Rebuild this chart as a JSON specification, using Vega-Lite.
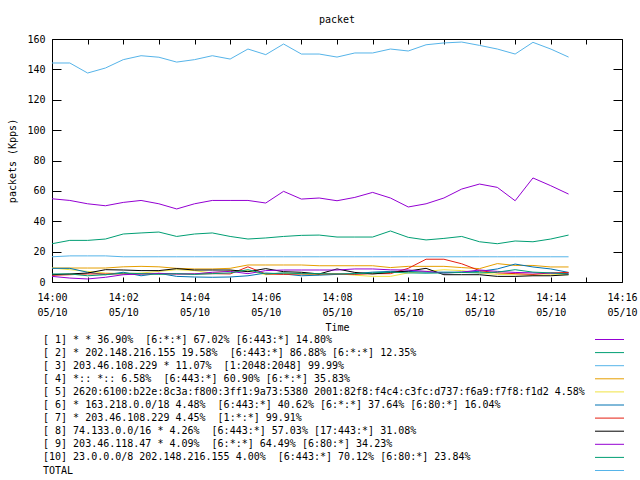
{
  "$schema": "https://vega.github.io/schema/vega-lite/v6.json",
  "width": 570,
  "height": 243,
  "autosize": {"type": "none"},
  "padding": {"left": 52, "top": 39, "right": 18, "bottom": 198},
  "background": "white",
  "title": {"text": "packet", "font": "DejaVu Sans Mono", "fontSize": 10, "fontWeight": "normal", "color": "black", "anchor": "middle", "frame": "group", "offset": 9},
  "config": {
    "view": {"stroke": "black", "strokeWidth": 1},
    "font": "DejaVu Sans Mono"
  },
  "data": {"values": [
    {"t": "2024-05-10T14:00:00", "a1": 54.8, "a2": 25.2, "a3": 16.6, "a4": 9.2, "a5": 9.2, "a6": 9.0, "a7": 4.4, "a8": 4.8, "a9": 3.7, "a10": 5.3, "tot": 144.2},
    {"t": "2024-05-10T14:00:30", "a1": 53.7, "a2": 27.4, "a3": 17.2, "a4": 9.2, "a5": 8.1, "a6": 9.0, "a7": 4.8, "a8": 5.3, "a9": 2.6, "a10": 5.3, "tot": 144.2},
    {"t": "2024-05-10T14:01:00", "a1": 51.5, "a2": 27.4, "a3": 17.2, "a4": 9.2, "a5": 7.0, "a6": 6.4, "a7": 5.3, "a8": 5.9, "a9": 2.0, "a10": 4.1, "tot": 137.6},
    {"t": "2024-05-10T14:01:30", "a1": 50.2, "a2": 28.3, "a3": 17.2, "a4": 9.2, "a5": 5.9, "a6": 4.8, "a7": 5.3, "a8": 8.1, "a9": 3.1, "a10": 4.8, "tot": 140.9},
    {"t": "2024-05-10T14:02:00", "a1": 52.4, "a2": 31.6, "a3": 16.6, "a4": 10.0, "a5": 5.5, "a6": 6.4, "a7": 5.3, "a8": 7.9, "a9": 4.8, "a10": 5.9, "tot": 146.4},
    {"t": "2024-05-10T14:02:30", "a1": 53.7, "a2": 32.3, "a3": 16.6, "a4": 10.3, "a5": 5.9, "a6": 4.1, "a7": 5.3, "a8": 7.5, "a9": 5.3, "a10": 5.5, "tot": 149.0},
    {"t": "2024-05-10T14:03:00", "a1": 51.5, "a2": 32.9, "a3": 16.6, "a4": 10.0, "a5": 7.0, "a6": 5.7, "a7": 5.5, "a8": 7.5, "a9": 5.7, "a10": 5.0, "tot": 148.0},
    {"t": "2024-05-10T14:03:30", "a1": 48.1, "a2": 30.0, "a3": 16.6, "a4": 9.0, "a5": 8.1, "a6": 3.7, "a7": 5.3, "a8": 8.8, "a9": 5.3, "a10": 5.5, "tot": 144.8},
    {"t": "2024-05-10T14:04:00", "a1": 51.5, "a2": 31.6, "a3": 16.6, "a4": 8.6, "a5": 7.5, "a6": 3.3, "a7": 5.3, "a8": 7.9, "a9": 5.3, "a10": 5.0, "tot": 146.4},
    {"t": "2024-05-10T14:04:30", "a1": 53.7, "a2": 32.3, "a3": 16.6, "a4": 8.6, "a5": 5.9, "a6": 3.1, "a7": 5.5, "a8": 7.9, "a9": 6.4, "a10": 5.5, "tot": 149.0},
    {"t": "2024-05-10T14:05:00", "a1": 53.7, "a2": 30.0, "a3": 16.6, "a4": 9.0, "a5": 7.5, "a6": 3.3, "a7": 5.3, "a8": 7.9, "a9": 7.0, "a10": 6.0, "tot": 146.8},
    {"t": "2024-05-10T14:05:30", "a1": 53.7, "a2": 28.3, "a3": 16.6, "a4": 11.2, "a5": 7.5, "a6": 4.1, "a7": 10.0, "a8": 6.8, "a9": 5.5, "a10": 8.1, "tot": 153.4},
    {"t": "2024-05-10T14:06:00", "a1": 52.0, "a2": 29.0, "a3": 16.6, "a4": 11.2, "a5": 4.8, "a6": 5.9, "a7": 5.3, "a8": 8.8, "a9": 7.5, "a10": 5.3, "tot": 149.7},
    {"t": "2024-05-10T14:06:30", "a1": 59.7, "a2": 30.0, "a3": 16.6, "a4": 11.2, "a5": 5.7, "a6": 5.3, "a7": 5.0, "a8": 6.8, "a9": 7.9, "a10": 6.0, "tot": 156.7},
    {"t": "2024-05-10T14:07:00", "a1": 54.6, "a2": 30.7, "a3": 16.6, "a4": 11.2, "a5": 5.3, "a6": 4.1, "a7": 5.3, "a8": 6.4, "a9": 7.9, "a10": 5.5, "tot": 150.1},
    {"t": "2024-05-10T14:07:30", "a1": 55.3, "a2": 30.9, "a3": 16.6, "a4": 10.7, "a5": 4.8, "a6": 4.5, "a7": 5.3, "a8": 5.3, "a9": 7.9, "a10": 5.5, "tot": 150.1},
    {"t": "2024-05-10T14:08:00", "a1": 53.5, "a2": 29.6, "a3": 16.6, "a4": 10.7, "a5": 5.5, "a6": 5.0, "a7": 5.3, "a8": 8.6, "a9": 7.9, "a10": 5.3, "tot": 148.1},
    {"t": "2024-05-10T14:08:30", "a1": 55.7, "a2": 29.6, "a3": 16.6, "a4": 10.7, "a5": 4.5, "a6": 5.5, "a7": 5.0, "a8": 6.3, "a9": 8.6, "a10": 5.5, "tot": 150.8},
    {"t": "2024-05-10T14:09:00", "a1": 59.0, "a2": 29.6, "a3": 16.6, "a4": 10.7, "a5": 3.7, "a6": 6.5, "a7": 5.5, "a8": 5.3, "a9": 8.6, "a10": 6.0, "tot": 150.8},
    {"t": "2024-05-10T14:09:30", "a1": 55.3, "a2": 33.6, "a3": 16.6, "a4": 9.5, "a5": 3.7, "a6": 7.0, "a7": 5.5, "a8": 6.3, "a9": 8.0, "a10": 6.5, "tot": 153.4},
    {"t": "2024-05-10T14:10:00", "a1": 49.4, "a2": 29.4, "a3": 16.6, "a4": 10.3, "a5": 6.0, "a6": 7.0, "a7": 9.0, "a8": 7.2, "a9": 7.9, "a10": 6.0, "tot": 152.1},
    {"t": "2024-05-10T14:10:30", "a1": 51.5, "a2": 27.7, "a3": 16.6, "a4": 10.3, "a5": 7.0, "a6": 6.5, "a7": 15.0, "a8": 9.0, "a9": 7.0, "a10": 5.8, "tot": 156.2},
    {"t": "2024-05-10T14:11:00", "a1": 55.3, "a2": 28.7, "a3": 16.6, "a4": 10.3, "a5": 8.1, "a6": 6.5, "a7": 15.0, "a8": 4.8, "a9": 5.9, "a10": 6.0, "tot": 157.4},
    {"t": "2024-05-10T14:11:30", "a1": 61.2, "a2": 30.0, "a3": 16.6, "a4": 9.5, "a5": 7.5, "a6": 6.5, "a7": 12.0, "a8": 4.8, "a9": 6.5, "a10": 6.3, "tot": 158.0},
    {"t": "2024-05-10T14:12:00", "a1": 64.5, "a2": 26.5, "a3": 16.6, "a4": 8.8, "a5": 6.0, "a6": 7.0, "a7": 7.5, "a8": 4.8, "a9": 7.9, "a10": 6.0, "tot": 155.8},
    {"t": "2024-05-10T14:12:30", "a1": 62.3, "a2": 25.2, "a3": 16.6, "a4": 12.1, "a5": 5.0, "a6": 8.6, "a7": 6.0, "a8": 3.7, "a9": 7.0, "a10": 6.5, "tot": 153.4},
    {"t": "2024-05-10T14:13:00", "a1": 53.5, "a2": 27.0, "a3": 16.6, "a4": 10.9, "a5": 4.8, "a6": 11.8, "a7": 5.5, "a8": 3.7, "a9": 6.3, "a10": 8.1, "tot": 150.1},
    {"t": "2024-05-10T14:13:30", "a1": 68.5, "a2": 26.5, "a3": 16.6, "a4": 10.9, "a5": 4.5, "a6": 9.9, "a7": 5.0, "a8": 4.1, "a9": 6.0, "a10": 6.5, "tot": 157.8},
    {"t": "2024-05-10T14:14:00", "a1": 63.4, "a2": 28.3, "a3": 16.6, "a4": 9.9, "a5": 4.8, "a6": 8.6, "a7": 6.0, "a8": 4.1, "a9": 5.8, "a10": 6.0, "tot": 153.4},
    {"t": "2024-05-10T14:14:30", "a1": 57.9, "a2": 30.9, "a3": 16.6, "a4": 9.9, "a5": 4.8, "a6": 6.3, "a7": 6.3, "a8": 4.8, "a9": 5.5, "a10": 5.3, "tot": 148.1}
  ]},
  "transform": [
    {"fold": ["a1", "a2", "a3", "a4", "a5", "a6", "a7", "a8", "a9", "a10", "tot"], "as": ["k", "v"]}
  ],
  "mark": {"type": "line", "strokeWidth": 1},
  "encoding": {
    "x": {"field": "t", "type": "temporal",
      "scale": {"domain": [{"year": 2024, "month": 5, "date": 10, "hours": 14, "minutes": 0}, {"year": 2024, "month": 5, "date": 10, "hours": 14, "minutes": 16}], "nice": false},
      "axis": {"orient": "bottom", "tickCount": 16, "domain": false, "ticks": false,
        "grid": true, "gridColor": "black", "gridOpacity": 1, "gridWidth": 1, "gridDash": [5, 233, 5, 0],
        "labelExpr": "minutes(datum.value) % 2 == 0 ? [timeFormat(datum.value, '%H:%M'), timeFormat(datum.value, '%m/%d')] : ''",
        "labelFont": "DejaVu Sans Mono", "labelFontSize": 10, "labelColor": "black", "labelFlush": false, "labelOverlap": false,
        "labelBaseline": "top", "labelLineHeight": 15, "labelPadding": 10,
        "title": "Time", "titleFont": "DejaVu Sans Mono", "titleFontSize": 10, "titleFontWeight": "normal", "titleColor": "black",
        "titleY": 45, "titleBaseline": "middle"}},
    "y": {"field": "v", "type": "quantitative",
      "scale": {"domain": [0, 160], "nice": false},
      "axis": {"orient": "left", "values": [0, 20, 40, 60, 80, 100, 120, 140, 160], "domain": false, "ticks": false,
        "grid": true, "gridColor": "black", "gridOpacity": 1, "gridWidth": 1, "gridDash": [9, 552, 9, 0],
        "labelFont": "DejaVu Sans Mono", "labelFontSize": 10, "labelColor": "black", "labelPadding": 7, "labelFlush": false,
        "title": "packets (Kpps)", "titleFont": "DejaVu Sans Mono", "titleFontSize": 10, "titleFontWeight": "normal", "titleColor": "black",
        "titleX": -40, "titleY": 121.5, "titleBaseline": "middle", "titleAlign": "center", "titleAngle": -90}},
    "color": {"field": "k", "type": "nominal",
      "scale": {
        "domain": ["a1", "a2", "a3", "a4", "a5", "a6", "a7", "a8", "a9", "a10", "tot"],
        "range": ["#9400d3", "#009e73", "#56b4e9", "#e69f00", "#f0e442", "#0072b2", "#e51e10", "#000000", "#9400d3", "#009e73", "#56b4e9"]
      },
      "legend": {"orient": "none", "legendX": 552, "legendY": 295, "title": null, "padding": 0,
        "symbolType": "M-2.9,0H2.9", "symbolSize": 100, "symbolStrokeWidth": 1,
        "labelFont": "DejaVu Sans Mono", "labelFontSize": 10, "labelColor": "black", "labelLimit": 1000,
        "labelOffset": -572, "rowPadding": 2.1,
        "encode": {"symbols": {"update": {"stroke": {"scale": "color", "field": "value"}}}},
        "labelExpr": "({'a1': '[ 1] * * 36.90%\u00a0 [6:*:*] 67.02% [6:443:*] 14.80%', 'a2': '[ 2] * 202.148.216.155 19.58%\u00a0 [6:443:*] 86.88% [6:*:*] 12.35%', 'a3': '[ 3] 203.46.108.229 * 11.07%\u00a0 [1:2048:2048] 99.99%', 'a4': '[ 4] *:: *:: 6.58%\u00a0 [6:443:*] 60.90% [6:*:*] 35.83%', 'a5': '[ 5] 2620:6100:b22e:8c3a:f800:3ff1:9a73:5380 2001:82f8:f4c4:c3fc:d737:f6a9:f7f8:f1d2 4.58%', 'a6': '[ 6] * 163.218.0.0/18 4.48%\u00a0 [6:443:*] 40.62% [6:*:*] 37.64% [6:80:*] 16.04%', 'a7': '[ 7] * 203.46.108.229 4.45%\u00a0 [1:*:*] 99.91%', 'a8': '[ 8] 74.133.0.0/16 * 4.26%\u00a0 [6:443:*] 57.03% [17:443:*] 31.08%', 'a9': '[ 9] 203.46.118.47 * 4.09%\u00a0 [6:*:*] 64.49% [6:80:*] 34.23%', 'a10': '[10] 23.0.0.0/8 202.148.216.155 4.00%\u00a0 [6:443:*] 70.12% [6:80:*] 23.84%', 'tot': 'TOTAL'})[datum.label]"}
    }
  }
}
